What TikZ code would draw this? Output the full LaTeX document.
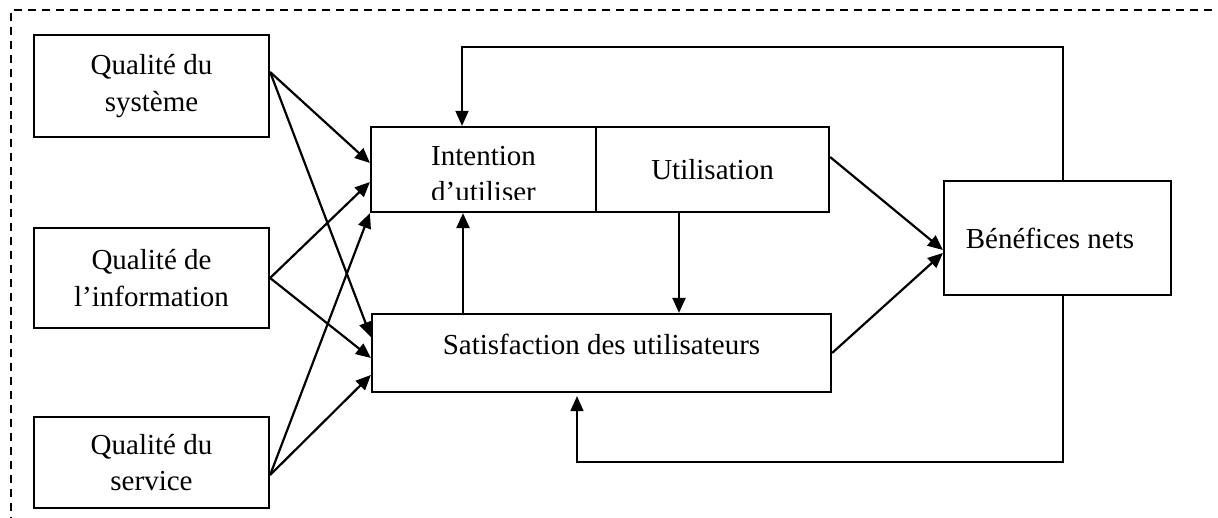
\documentclass[tikz,border=0pt]{standalone}
\usepackage{fontspec}
\setmainfont{Liberation Serif}
\usetikzlibrary{arrows.meta,calc}
\begin{document}
\begin{tikzpicture}[x=1pt,y=-1pt,
  box/.style={draw, line width=2.2pt, rectangle, inner sep=0pt, align=center,
              font=\fontsize{29}{36.5}\selectfont},
  tip/.style={-{Triangle[length=15pt,width=13pt]}},
  arr/.style={tip, line width=2.2pt},
  fb/.style={tip, line width=1.6pt},
  frame/.style={line width=2.2pt, dash pattern=on 8pt off 6pt}]
\useasboundingbox (0,0) rectangle (1218,518);
\clip (0,0) rectangle (1218,518);

% dashed frame (runs past the page on the right and bottom)
\draw[frame] (1240,10) -- (11,10) -- (11,540);

% quality dimensions
\node[box, minimum width=235pt, minimum height=102pt] (qs)  at (151.5,86)    {Qualité du\\système};
\node[box, minimum width=235pt, minimum height=100pt] (qi)  at (151.5,278)   {Qualité de\\l’information};
\node[box, minimum width=235pt, minimum height=91pt]  (qsv) at (151.5,462.5) {Qualité du\\service};

% use / intention / satisfaction / net benefits
\node[box, minimum width=225pt, minimum height=85pt] (int) at (483.5,169.5) {\rule{0pt}{28pt}Intention\\d’utiliser};
\node[box, minimum width=233pt, minimum height=85pt] (uti) at (712.5,169.5) {Utilisation};
\node[box, minimum width=459pt, minimum height=78pt, text depth=18pt] (sat) at (601.5,353) {Satisfaction des utilisateurs};
\node[box, minimum width=227pt, minimum height=114pt] (ben) at (1057.5,238) {Bénéfices nets\hspace*{15pt}};

% the second line of "Intention d'utiliser" is cut off at the bottom
\fill[white] (372.4,200) rectangle (594.6,210.6);

% helper coordinates for the orthogonal connectors
\coordinate (xsu)  at (463,0);
\coordinate (xus)  at (679,0);
\coordinate (xtop) at (462,0);
\coordinate (xfb)  at (1063,0);
\coordinate (xbot) at (577,0);
\coordinate (ytop) at (0,47);
\coordinate (ybot) at (0,462);

% quality -> intention / satisfaction
\draw[arr] ([yshift=14pt]qs.east) -- ([yshift=6.5pt]int.west);
\draw[arr] ([yshift=14pt]qs.east) -- ([yshift=16pt]sat.west);
\draw[arr] (qi.east) -- ([yshift=-12.5pt]int.west);
\draw[arr] (qi.east) -- ([yshift=-5pt]sat.west);
\draw[arr] ([yshift=-12.5pt]qsv.east) -- (int.south west);
\draw[arr] ([yshift=-12.5pt]qsv.east) -- ([yshift=-22pt]sat.west);

% between intention/use and satisfaction
\draw[arr] (sat.north -| xsu) -- (int.south -| xsu);
\draw[arr] (uti.south -| xus) -- (sat.north -| xus);

% towards net benefits
\draw[arr] ([yshift=12.5pt]uti.east) -- ([yshift=-12pt]ben.west);
\draw[arr] (sat.east) -- ([yshift=-15pt]ben.west);

% feedback loops
\draw[fb] (ben.north -| xfb) |- (ytop -| xtop) -- (int.north -| xtop);
\draw[fb, shorten >=3pt] (ben.south -| xfb) |- (ybot -| xbot) -- (sat.south -| xbot);
\end{tikzpicture}
\end{document}
